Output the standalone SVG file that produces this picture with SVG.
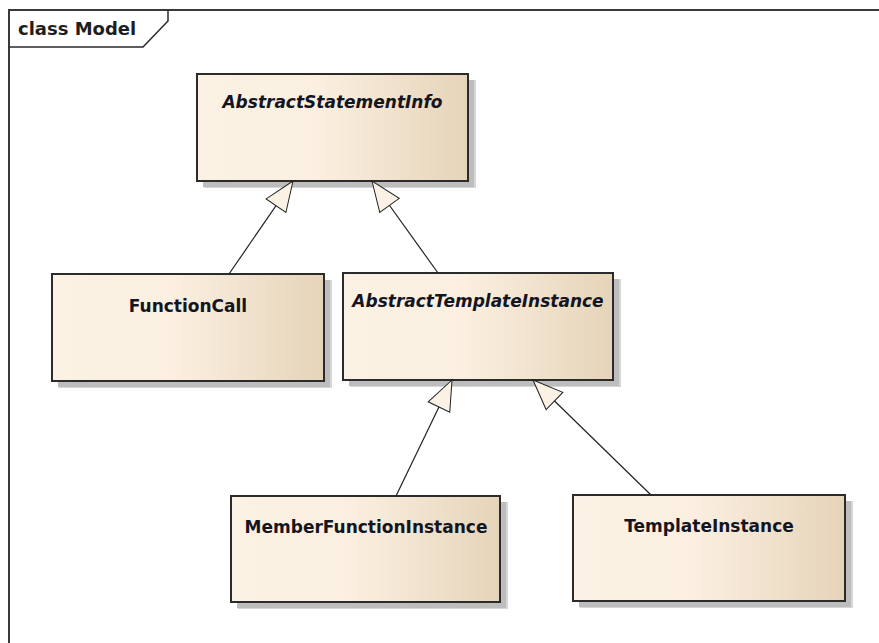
<svg xmlns="http://www.w3.org/2000/svg" width="879" height="643" viewBox="0 0 879 643">
  <defs>
    <linearGradient id="classFill" x1="0" y1="0" x2="1" y2="0">
      <stop offset="0" stop-color="#FBF1E4"/>
      <stop offset="0.45" stop-color="#FAEFE0"/>
      <stop offset="1" stop-color="#E6D4B9"/>
    </linearGradient>
    <marker id="generalization" markerUnits="userSpaceOnUse" viewBox="0 0 32 26" refX="31" refY="13" markerWidth="32" markerHeight="26" orient="auto" overflow="visible">
      <path d="M31,13 L1,1 L1,25 Z" fill="#FBF1E4" stroke="#222" stroke-width="1"/>
    </marker>
  </defs>
  <style>
    .frame { fill: none; stroke: #3a3a3a; stroke-width: 2; }
    .tab { fill: none; stroke: #2a2a2a; stroke-width: 1.5; }
    .title { font-family: "DejaVu Sans", Verdana, sans-serif; font-weight: bold; font-size: 18px; fill: #1e1e1e; }
    .shadow-outer { fill: #D6D6D6; }
    .shadow { fill: #BDBDBD; }
    .box { fill: url(#classFill); stroke: #2b2b2b; stroke-width: 2; }
    .name { font-family: "DejaVu Sans", Verdana, sans-serif; font-weight: bold; font-size: 17px; fill: #15151f; text-anchor: middle; }
    .abstract { font-style: italic; }
    .edge { fill: none; stroke: #222; stroke-width: 1.2; marker-end: url(#generalization); }
  </style>

  <rect width="879" height="643" fill="#ffffff"/>

  <!-- diagram frame with name tab -->
  <g id="frame">
    <path class="frame" d="M9,643 V10 H879"/>
    <path class="tab" d="M9,47 H143 L168,21 V10"/>
    <text class="title" x="18" y="35">class Model</text>
  </g>

  <!-- classes -->
  <g id="AbstractStatementInfo">
    <rect class="shadow-outer" x="204" y="80" width="272" height="108"/>
    <rect class="shadow" x="203" y="80" width="271" height="107"/>
    <rect class="box" x="197" y="74" width="271" height="107"/>
    <text class="name abstract" x="332.5" y="108">AbstractStatementInfo</text>
  </g>

  <g id="FunctionCall">
    <rect class="shadow-outer" x="59" y="280" width="273" height="108"/>
    <rect class="shadow" x="58" y="280" width="272" height="107"/>
    <rect class="box" x="52" y="274" width="272" height="107"/>
    <text class="name" x="188" y="312">FunctionCall</text>
  </g>

  <g id="AbstractTemplateInstance">
    <rect class="shadow-outer" x="350" y="279" width="271" height="108"/>
    <rect class="shadow" x="349" y="279" width="270" height="107"/>
    <rect class="box" x="343" y="273" width="270" height="107"/>
    <text class="name abstract" x="478" y="307">AbstractTemplateInstance</text>
  </g>

  <g id="MemberFunctionInstance">
    <rect class="shadow-outer" x="238" y="502" width="270" height="107"/>
    <rect class="shadow" x="237" y="502" width="269" height="106"/>
    <rect class="box" x="231" y="496" width="269" height="106"/>
    <text class="name" x="366" y="533">MemberFunctionInstance</text>
  </g>

  <g id="TemplateInstance">
    <rect class="shadow-outer" x="580" y="501" width="273" height="107"/>
    <rect class="shadow" x="579" y="501" width="272" height="106"/>
    <rect class="box" x="573" y="495" width="272" height="106"/>
    <text class="name" x="709" y="532">TemplateInstance</text>
  </g>

  <!-- generalization connectors -->
  <g id="connectors">
    <path class="edge" d="M229,274 L293,181"/>
    <path class="edge" d="M438,273 L372,181"/>
    <path class="edge" d="M396,496 L452,380"/>
    <path class="edge" d="M651,495 L533,380"/>
  </g>
</svg>
